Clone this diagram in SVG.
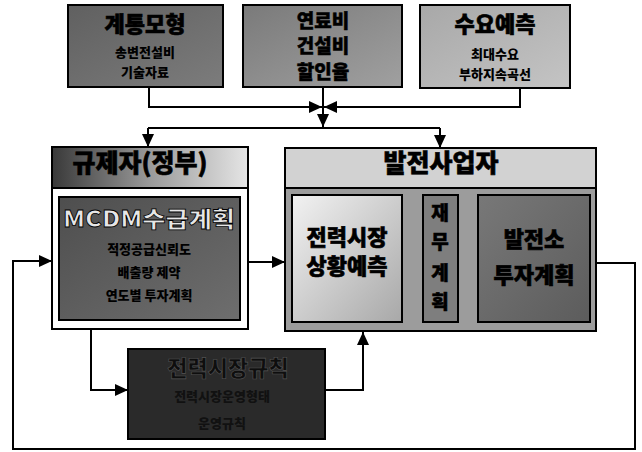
<svg xmlns="http://www.w3.org/2000/svg" width="642" height="452" viewBox="0 0 642 452">
<defs>
<style>
text{font-family:"Noto Sans CJK KR","Noto Sans",sans-serif;font-weight:900;text-anchor:middle;fill:#000}
.box{stroke:#000;stroke-width:2}
.ln{fill:none;stroke:#000;stroke-width:2}
.arr{marker-end:url(#ah)}
.t1{font-size:22px;stroke:#000;stroke-width:0.6}
.t2{font-size:13px}
.t3{font-size:19px;stroke:#000;stroke-width:0.5}
.big{font-size:25px;stroke:#000;stroke-width:0.6}
</style>
<marker id="ah" markerUnits="userSpaceOnUse" markerWidth="13" markerHeight="12" viewBox="0 0 13 12" refX="13" refY="6" orient="auto">
<path d="M0,0 L13,6 L0,12 z" fill="#000"/>
</marker>
<linearGradient id="g1" x1="0" y1="0" x2="1" y2="1"><stop offset="0" stop-color="#606060"/><stop offset="1" stop-color="#7c7c7c"/></linearGradient>
<linearGradient id="g2" x1="0" y1="0" x2="1" y2="1"><stop offset="0" stop-color="#7a7a7a"/><stop offset="1" stop-color="#a0a0a0"/></linearGradient>
<linearGradient id="g3" x1="0" y1="0" x2="1" y2="1"><stop offset="0" stop-color="#a8a8a8"/><stop offset="1" stop-color="#c4c4c4"/></linearGradient>
<linearGradient id="gh" x1="0" y1="0" x2="1" y2="0"><stop offset="0" stop-color="#3a3a3a"/><stop offset="0.5" stop-color="#9a9a9a"/><stop offset="1" stop-color="#e4e4e4"/></linearGradient>
<linearGradient id="gm" x1="0" y1="0" x2="1" y2="1"><stop offset="0" stop-color="#4e4e4e"/><stop offset="1" stop-color="#6e6e6e"/></linearGradient>
<linearGradient id="gs" x1="0" y1="0" x2="1" y2="1"><stop offset="0" stop-color="#f2f2f2"/><stop offset="1" stop-color="#a8a8a8"/></linearGradient>
<linearGradient id="gp" x1="0" y1="0" x2="1" y2="1"><stop offset="0" stop-color="#787878"/><stop offset="1" stop-color="#5c5c5c"/></linearGradient>
</defs>

<g id="connectors">
<path class="ln arr" d="M149,87 V107 H322"/>
<path class="ln arr" d="M520,88 V107 H324"/>
<path class="ln" d="M323,87 V107"/>
<path class="ln arr" d="M323,107 V127"/>
<path class="ln" d="M148,128 H440"/>
<path class="ln arr" d="M148,128 V147"/>
<path class="ln arr" d="M440,128 V148"/>
<path class="ln arr" d="M248,262 H285"/>
<path class="ln arr" d="M402,262 H423"/>
<path class="ln arr" d="M458,262 H478"/>
<path class="ln arr" d="M91,329 V390 H128"/>
<path class="ln arr" d="M325,390 H363 V332"/>
<path class="ln arr" d="M596,263 H635 V449 H13 V261 H52"/>
</g>

<g id="node-grid-model">
<rect class="box" x="68" y="5" width="155" height="82" fill="url(#g1)"/>
<text class="t1" x="145" y="32">계통모형</text>
<text class="t2" x="145" y="57">송변전설비</text>
<text class="t2" x="145" y="77">기술자료</text>
</g>

<g id="node-cost">
<rect class="box" x="243" y="5" width="159" height="82" fill="url(#g2)"/>
<text class="t3" x="323" y="28">연료비</text>
<text class="t3" x="323" y="53">건설비</text>
<text class="t3" x="323" y="79">할인율</text>
</g>

<g id="node-demand">
<rect class="box" x="420" y="5" width="150" height="83" fill="url(#g3)"/>
<text class="t1" x="495" y="32">수요예측</text>
<text class="t2" x="495" y="59">최대수요</text>
<text class="t2" x="495" y="79">부하지속곡선</text>
</g>

<g id="node-regulator">
<rect class="box" x="52" y="147" width="196" height="182" fill="#fff"/>
<rect x="53" y="148" width="194" height="40" fill="url(#gh)"/>
<line class="ln" x1="52" y1="188" x2="248" y2="188"/>
<text class="big" x="140" y="172">규제자(정부)</text>
<rect class="box" x="59" y="197" width="181" height="123" fill="url(#gm)"/>
<text class="t1" x="149" y="227" textLength="172" lengthAdjust="spacingAndGlyphs" style="fill:#e6e6e6;stroke:#000;stroke-width:0.8">MCDM수급계획</text>
<text class="t2" x="149" y="254">적정공급신뢰도</text>
<text class="t2" x="149" y="277">배출량 제약</text>
<text class="t2" x="149" y="300">연도별 투자계획</text>
</g>

<g id="node-generator">
<rect class="box" x="285" y="148" width="311" height="183" fill="#9c9c9c"/>
<rect x="286" y="149" width="309" height="39" fill="#d2d2d2"/>
<line class="ln" x1="285" y1="188" x2="596" y2="188"/>
<text class="big" x="441" y="172">발전사업자</text>
<g id="node-market-forecast">
<rect class="box" x="292" y="195" width="110" height="127" fill="url(#gs)"/>
<text class="t1" x="347" y="245">전력시장</text>
<text class="t1" x="347" y="274">상황예측</text>
</g>
<g id="node-finance">
<rect class="box" x="423" y="195" width="35" height="127" fill="#7e7e7e"/>
<text class="t3" x="440" y="220">재</text>
<text class="t3" x="440" y="249">무</text>
<text class="t3" x="440" y="280">계</text>
<text class="t3" x="440" y="309">획</text>
</g>
<g id="node-plant-invest">
<rect class="box" x="478" y="195" width="112" height="127" fill="url(#gp)"/>
<text class="t1" x="534" y="247">발전소</text>
<text class="t1" x="534" y="283">투자계획</text>
</g>
</g>

<g id="node-market-rules">
<rect class="box" x="128" y="349" width="197" height="90" fill="#2a2a2a"/>
<text class="t1" x="228" y="376" style="fill:#0e0e0e;stroke:#555;stroke-width:0.6">전력시장규칙</text>
<text class="t2" x="222" y="401" style="fill:#111">전력시장운영형태</text>
<text class="t2" x="222" y="428" style="fill:#111">운영규칙</text>
</g>
</svg>
